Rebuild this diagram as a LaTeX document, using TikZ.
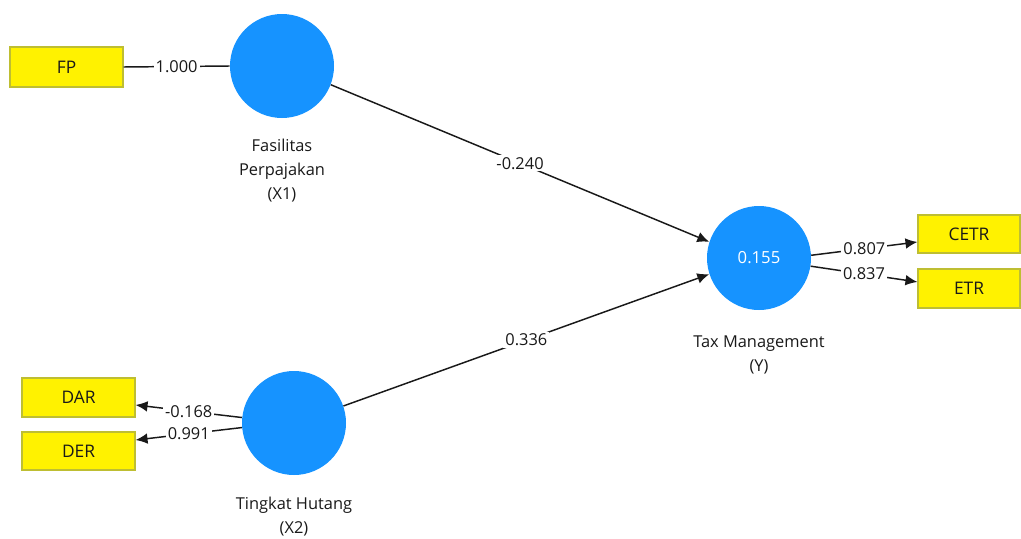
\documentclass[tikz,border=0pt]{standalone}
\usepackage{fontspec}
\setmainfont{Open Sans}
\usetikzlibrary{arrows.meta}
\definecolor{lvblue}{RGB}{22,147,255}
\definecolor{mvborder}{RGB}{190,190,50}
\definecolor{txt}{RGB}{25,25,25}
\begin{document}
\begin{tikzpicture}[x=0.75pt,y=-0.75pt,
  latent/.style={circle, fill=lvblue, minimum size=78pt, inner sep=0pt, text=white, font=\fontsize{12.5}{18}\selectfont},
  indicator/.style={rectangle, draw=mvborder, line width=0.8pt, fill=yellow, inner sep=0pt, text=txt, font=\fontsize{13}{18}\selectfont},
  caption/.style={align=center, text=txt, font=\fontsize{12.3}{18}\selectfont},
  lbl/.style={fill=white, inner sep=1.5pt, text=txt, font=\fontsize{12.3}{18}\selectfont},
  conn/.style={draw=txt, line width=1.1pt},
  arr/.style={conn, -{Latex[length=9pt,width=8pt]}}]
\useasboundingbox (0,0) rectangle (1021,539);
% latent variables
\node[latent] (X1) at (282,66) {};
\node[latent] (X2) at (294,423) {};
\node[latent] (Y) at (759,258) {0.155};
% captions
\node[caption] (cX1) at (282,171) {Fasilitas\\Perpajakan\\(X1)};
\node[caption] (cX2) at (294,517) {Tingkat Hutang\\(X2)};
\node[caption] (cY) at (759,355) {Tax Management\\(Y)};
% indicators
\node[indicator, minimum width=84.75pt, minimum height=30pt] (FP) at (66.5,67) {FP};
\node[indicator, minimum width=84.75pt, minimum height=29.25pt] (DAR) at (78.5,397.5) {DAR};
\node[indicator, minimum width=84.75pt, minimum height=28.5pt] (DER) at (78.5,451) {DER};
\node[indicator, minimum width=76.5pt, minimum height=28.5pt] (CETR) at (969,234) {CETR};
\node[indicator, minimum width=76.5pt, minimum height=29.25pt] (ETR) at (969,288.5) {ETR};
% connectors
\draw[conn] (FP.east) -- node[lbl] {1.000} (X1.west);
\draw[arr] (X1.-21.8) -- node[lbl] {-0.240} (Y.162);
\draw[arr] (X2.19.4) -- node[lbl] {0.336} (Y.198);
\draw[arr] (X2.174.5) -- node[lbl] {-0.168} ([yshift=-5.6pt]DAR.east);
\draw[arr] (X2.185.5) -- node[lbl] {0.991} ([yshift=8.25pt]DER.east);
\draw[arr] (Y.3) -- node[lbl] {0.807} ([yshift=-6pt]CETR.west);
\draw[arr] (Y.-9) -- node[lbl] {0.837} ([yshift=4.9pt]ETR.west);
\end{tikzpicture}
\end{document}
